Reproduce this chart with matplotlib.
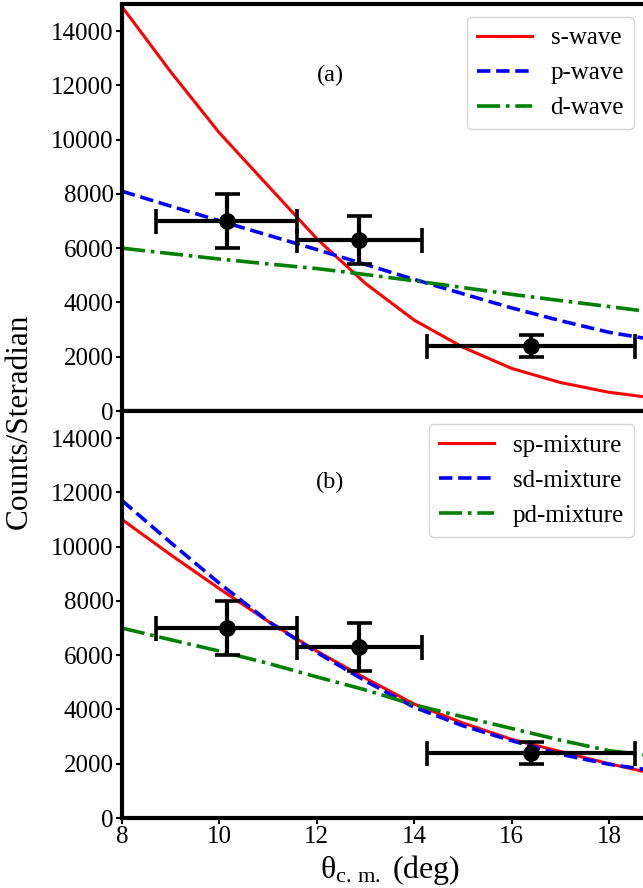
import matplotlib
matplotlib.use("Agg")
import matplotlib.pyplot as plt
import numpy as np

plt.rcParams['font.family'] = ['Liberation Serif', 'DejaVu Serif']
plt.rcParams['mathtext.fontset'] = 'custom'
plt.rcParams['mathtext.rm'] = 'Liberation Serif'
plt.rcParams['mathtext.it'] = 'Liberation Serif:italic'

# Theory curves: angle grid (deg)
theta = [8, 9, 10, 11, 12, 13, 14, 15, 16, 17, 18, 19]
# panel (a)
s_wave = [14900, 12500, 10250, 8300, 6350, 4700, 3350, 2350, 1570, 1050, 690, 460]
p_wave = [8100, 7550, 7010, 6480, 5950, 5400, 4850, 4320, 3800, 3330, 2900, 2600]
d_wave = [6000, 5800, 5600, 5420, 5250, 5030, 4800, 4550, 4300, 4070, 3850, 3620]
# panel (b)
sp_mix = [11000, 9700, 8450, 7250, 6150, 5150, 4200, 3500, 2900, 2450, 2000, 1600]
sd_mix = [11700, 10150, 8650, 7250, 6100, 5050, 4080, 3400, 2850, 2350, 1980, 1720]
pd_mix = [7000, 6570, 6150, 5700, 5200, 4720, 4170, 3730, 3300, 2870, 2480, 2270]

# Data points
data_x = [10.15, 12.87, 16.40]
data_y = [7000, 6300, 2400]
data_xerr = [1.45, 1.28, 2.14]
data_yerr = [1000, 900, 400]

yticks = [0, 2000, 4000, 6000, 8000, 10000, 12000, 14000]
xticks = [8, 10, 12, 14, 16, 18]

fig = plt.figure(figsize=(6.43, 8.88), dpi=100)
left = 122 / 643
width = (19 - 8) * 48.7 / 643
ax1 = fig.add_axes([left, 1 - 411 / 888, width, 407 / 888])
ax2 = fig.add_axes([left, 1 - 818 / 888, width, 407 / 888])

panels = [
    (ax1, [(s_wave, 'red', '-', 's-wave'), (p_wave, 'blue', '--', 'p-wave'), (d_wave, 'green', '-.', 'd-wave')], '(a)'),
    (ax2, [(sp_mix, 'red', '-', 'sp-mixture'), (sd_mix, 'blue', '--', 'sd-mixture'), (pd_mix, 'green', '-.', 'pd-mixture')], '(b)'),
]

for ax, curves, tag in panels:
    for vals, col, ls, lab in curves:
        lw = 2.2 if ls == '-' else 2.6
        ax.plot(theta, vals, color=col, linestyle=ls, lw=lw, label=lab)
    ax.errorbar(data_x, data_y, xerr=data_xerr, yerr=data_yerr, fmt='o', color='black',
                ms=11, elinewidth=3, capsize=9, capthick=2.6, zorder=5)
    ax.set_xlim(8, 19)
    ax.set_ylim(0, 15000)
    ax.set_yticks(yticks)
    ax.set_xticks(xticks)
    for sp in ax.spines.values():
        sp.set_linewidth(3)
    ax.tick_params(axis='both', labelsize=18, width=1.5, length=4, direction='out', pad=2)
    ax.text(12.28, 12350, tag, fontsize=17.5, ha='center', va='center')
    leg = ax.legend(loc='upper right', bbox_to_anchor=((634 - 122) / (width * 643), (411 - 17) / 407),
                    borderaxespad=0, fontsize=18, frameon=True, fancybox=True, handlelength=2.2,
                    borderpad=0.4, labelspacing=0.5, handletextpad=0.75)
    leg.get_frame().set_edgecolor('#cccccc')
    leg.get_frame().set_linewidth(1.0)

ax1.tick_params(axis='x', bottom=False, labelbottom=False)
ax2.set_xlabel(r'$\mathrm{\theta_{c.\,m.}}$ (deg)', fontsize=23, labelpad=3)
fig.text(0.030, (888 - 421) / 888, 'Counts/Steradian', rotation=90, fontsize=22.5,
         ha='center', va='center')

fig.savefig('out.png', dpi=100)
